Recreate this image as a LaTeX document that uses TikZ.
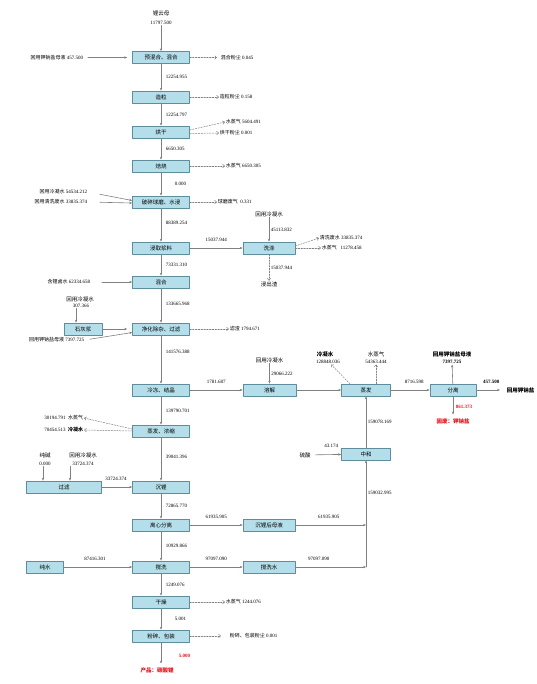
\documentclass[tikz,border=0pt]{standalone}
\usepackage{fontspec}
\setmainfont{Liberation Serif}
\newfontfamily\zh{Noto Sans CJK SC}
\usepackage{tikz}
\usetikzlibrary{arrows.meta, positioning}
\definecolor{flow-fill}{HTML}{B4DEE9}
\definecolor{flow-edge}{HTML}{5E8E9E}
\definecolor{flow-line}{HTML}{808080}
\definecolor{flow-red}{HTML}{E8121C}

\begin{document}
\begin{tikzpicture}[x=1pt, y=-1pt, >={Stealth[length=3pt,width=2.4pt]},
  line cap=round, line join=round, font=\fontsize{5}{6}\selectfont,
  proc/.style={draw=flow-edge, fill=flow-fill, line width=0.6pt, minimum width=57pt,
    minimum height=12pt, inner sep=0pt, font=\zh\fontsize{5.5}{6}\selectfont},
  txt/.style={inner sep=0.6pt},
  zhtxt/.style={inner sep=0.6pt, font=\zh\fontsize{5.5}{6}\selectfont},
  flow/.style={draw=flow-line, line width=0.6pt, ->},
  loss/.style={draw=flow-line, line width=0.5pt, dash pattern=on 1.6pt off 1.2pt,
    -{Straight Barb[length=2pt,width=3.4pt]}},
  hor/.style={txt, above=6pt},
  ver/.style={txt, right=4pt}]
  \useasboundingbox (0,0) rectangle (536,684);

  % main column
  \node[zhtxt] (ore) at (161,13) {锂云母};
  \node[txt] (oreq) at (161,23) {11797.500};
  \node[proc] (premix) at (161,57.5) {预混合、混合};
  \node[proc] (gran) at (161,97) {造粒};
  \node[proc] (dry) at (161,132) {烘干};
  \node[proc] (roast) at (161,166) {焙烧};
  \node[proc] (crush) at (161,202) {破碎球磨、水浸};
  \node[proc] (leach) at (161,248) {浸取浆料};
  \node[proc] (blend) at (161,282) {混合};
  \node[proc] (purify) at (161,329) {净化除杂、过滤};
  \node[proc] (freeze) at (161,390) {冷冻、结晶};
  \node[proc] (conc) at (161,431) {蒸发、浓缩};
  \node[proc] (preci) at (161,487) {沉锂};
  \node[proc] (centri) at (161,525) {离心分离};
  \node[proc] (stir) at (161,567) {搅洗};
  \node[proc] (dryer) at (161,602) {干燥};
  \node[proc] (pack) at (161,636) {粉碎、包装};
  \node[txt, font=\zh\bfseries\fontsize{5.5}{6}\selectfont, text=flow-red] (prod) at (157,670) {产品：碳酸锂};

  \draw[flow] (oreq) -- (premix);
  \draw[flow] (premix) -- node[ver] {12254.955} (gran);
  \draw[flow] (gran) -- node[ver] {12254.797} (dry);
  \draw[flow] (dry) -- node[ver] {6650.305} (roast);
  \draw[flow] (roast) -- node[ver, xshift=9pt] {0.000} (crush);
  \draw[flow] (crush) -- node[ver, pos=0.45] {88389.254} (leach);
  \draw[flow] (leach) -- node[ver] {73331.310} (blend);
  \draw[flow] (blend) -- node[ver, pos=0.45] {133665.968} (purify);
  \draw[flow] (purify) -- node[ver, pos=0.35] {141576.388} (freeze);
  \draw[flow] (freeze) -- node[ver] {139790.701} (conc);
  \draw[flow] (conc) -- node[ver, pos=0.45] {39041.396} (preci);
  \draw[flow] (preci) -- node[ver] {72865.770} (centri);
  \draw[flow] (centri) -- node[ver] {10929.866} (stir);
  \draw[flow] (stir) -- node[ver] {1249.076} (dryer);
  \draw[flow] (dryer) -- node[ver, xshift=9pt] {5.001} (pack);
  \draw[flow, shorten >=3pt] (pack) -- node[ver, xshift=13pt, pos=0.55, text=flow-red, font=\bfseries\fontsize{5}{6}\selectfont] {5.000} (pack |- prod.north);

  % inputs from the left
  \node[txt, anchor=east] (rin1) at (84,57.5) {{\zh 回用钾钠盐母液} 457.500};
  \node[txt, anchor=east] (cw1) at (88,192) {{\zh 回用冷凝水} 54534.212};
  \node[txt, anchor=east] (rin2) at (88,202) {{\zh 回用清洗废水} 33835.374};
  \node[txt, anchor=east] (brine) at (91,282) {{\zh 含锂卤水} 62334.658};
  \node[txt, anchor=east] (rin3) at (85,340) {{\zh 回用钾钠盐母液} 7397.725};
  \draw[flow, shorten <=4pt, shorten >=5pt] (rin1) -- (premix);
  \draw[flow, shorten <=12pt] (cw1.east) -- ([yshift=1.5pt]crush.west);
  \draw[flow, shorten <=12pt] (rin2.east) -- ([yshift=-1pt]crush.west);
  \draw[flow, shorten <=11pt] (brine) -- (blend);
  \draw[flow, shorten <=5pt] (rin3.east) -- ([yshift=-3.5pt]purify.west);

  \node[proc, minimum width=38pt] (lime) at (83,329) {石灰浆};
  \node[zhtxt] (cw2) at (80,299) {回用冷凝水};
  \node[txt] (cw2q) at (81,306) {307.366};
  \draw[flow] ([xshift=-5pt]cw2q.south) -- ([xshift=-7pt]lime.north);
  \draw[flow, shorten >=5pt] (lime) -- (purify);

  % losses to the right
  \node[txt, anchor=west] (dust1) at (220,57.5) {{\zh 混合粉尘} 0.045};
  \node[txt, anchor=west] (dust2) at (219,97) {{\zh 造粒粉尘} 0.158};
  \node[txt, anchor=west] (vap1) at (225,122) {{\zh 水蒸气} 5604.491};
  \node[txt, anchor=west] (dust3) at (219,133) {{\zh 烘干粉尘} 0.001};
  \node[txt, anchor=west] (vap2) at (225,166) {{\zh 水蒸气} 6650.305};
  \node[txt, anchor=west] (gas1) at (217,202) {{\zh 球磨废气}\ \ 0.331};
  \node[txt, anchor=west] (cake) at (229,329) {{\zh 滤渣} 1794.671};
  \node[txt, anchor=west] (vap3) at (225,602) {{\zh 水蒸气} 1244.076};
  \node[txt, anchor=west] (dust4) at (229,636) {{\zh 粉碎、包装粉尘} 0.001};
  \draw[loss] (premix) -- ([xshift=-3pt]dust1.west);
  \draw[loss] (gran) -- (dust2);
  \draw[loss] ([yshift=2pt]dry.east) -- (vap1.west);
  \draw[loss] ([yshift=-1.5pt]dry.east) -- (dust3.west);
  \draw[loss] (roast) -- (vap2);
  \draw[loss] (crush) -- (gas1);
  \draw[loss] (purify) -- (cake);
  \draw[loss] (dryer) -- (vap3);
  \draw[loss] (pack) -- ([xshift=-8pt]dust4.west);

  \node[txt, anchor=east] (vap4) at (84,418) {30194.791\ \ {\zh 水蒸气}};
  \node[txt, anchor=east] (cond1) at (84,430) {70454.513\ \ {\zh\bfseries 冷凝水}};
  \draw[loss] ([yshift=2pt]conc.west) -- (vap4.east);
  \draw[loss] (conc.west) -- (cond1.east);

  % washing branch
  \node[proc, minimum width=52pt] (wash) at (269,248) {洗涤};
  \node[zhtxt] (cw3) at (269,214) {回用冷凝水};
  \node[zhtxt] (slag) at (269,284) {浸出渣};
  \node[txt, anchor=west] (ww) at (319,238) {{\zh 清洗废水} 33835.374};
  \node[txt, anchor=west] (vap5) at (321,248) {{\zh 水蒸气}\ \ \ 11278.458};
  \draw[flow] (leach) -- node[hor] {15037.944} (wash);
  \draw[flow] (cw3) -- node[ver, xshift=-3pt] {45113.832} (wash);
  \draw[loss] (wash) -- node[ver, xshift=-3pt] {15037.944} (slag);
  \draw[loss] ([yshift=2pt]wash.east) -- (ww.west);
  \draw[loss] (wash) -- (vap5);

  % dissolving and evaporation branch
  \node[proc, minimum width=53pt] (diss) at (269.5,390) {溶解};
  \node[proc, minimum width=49pt] (evap) at (366,390) {蒸发};
  \node[proc, minimum width=46pt] (sep) at (453,390) {分离};
  \node[proc, minimum width=49pt] (neut) at (366,454) {中和};
  \node[zhtxt] (cw4) at (269.5,360) {回用冷凝水};
  \draw[flow] (freeze) -- node[hor] {1781.687} (diss);
  \draw[flow] (cw4) -- node[ver, xshift=-3pt] {29066.222} (diss);
  \draw[flow] (diss) -- (evap);

  \node[txt, font=\zh\bfseries\fontsize{5.5}{6}\selectfont] (cond2) at (325,354) {冷凝水};
  \node[txt] (cond2q) at (328,362) {128848.036};
  \node[zhtxt] (vap6) at (376,354) {水蒸气};
  \node[txt] (vap6q) at (376,362) {54363.444};
  \draw[loss] ([xshift=-16pt]evap.north) -- ([xshift=3pt]cond2q.south);
  \draw[loss] ([xshift=10pt]evap.north) -- (vap6q.south);
  \draw[flow] (evap) -- node[hor, pos=0.6] {8716.598} (sep);

  \node[txt, font=\zh\bfseries\fontsize{5.5}{6}\selectfont] (rec1) at (452,354) {回用钾钠盐母液};
  \node[txt, font=\bfseries\fontsize{5}{6}\selectfont] (rec1q) at (452,362) {7397.725};
  \node[txt, anchor=west, font=\zh\bfseries\fontsize{5.5}{6}\selectfont] (rec2) at (506,390) {回用钾钠盐};
  \node[txt, font=\zh\bfseries\fontsize{5.5}{6}\selectfont, text=flow-red] (waste) at (453,421) {固废：钾钠盐};
  \draw[flow] (sep) -- (rec1q);
  \draw[flow, shorten >=6pt] (sep) -- node[hor, font=\bfseries\fontsize{5}{6}\selectfont] {457.500} (rec2);
  \draw[flow, shorten >=3pt] (sep) -- node[ver, xshift=-2pt, text=flow-red, font=\bfseries\fontsize{5}{6}\selectfont] {861.373} (waste);

  % mother liquor return
  \node[zhtxt] (acid) at (305,455) {硫酸};
  \draw[flow, shorten <=4pt] (acid) -- node[hor, xshift=5pt] {43.174} (neut);
  \draw[flow] (neut) -- node[ver, xshift=-3pt] {159078.169} (evap);

  \node[proc, minimum width=75pt] (filt) at (64,487) {过滤};
  \node[zhtxt] (soda) at (45,455) {纯碱};
  \node[txt] (sodaq) at (45,464) {0.000};
  \node[zhtxt] (cw5) at (83,455) {回用冷凝水};
  \node[txt] (cw5q) at (83,464) {33724.374};
  \draw[flow] ([xshift=-2pt]sodaq.south) -- ([xshift=-21pt]filt.north);
  \draw[flow] ([xshift=-13pt]cw5q.south) -- ([xshift=6pt]filt.north);
  \draw[flow] (filt) -- node[hor, xshift=-1pt] {33724.374} (preci);

  \node[proc, minimum width=52pt] (mother) at (269,525) {沉锂后母液};
  \node[proc, minimum width=37pt] (pure) at (45,567) {纯水};
  \node[proc, minimum width=52pt] (stirw) at (269,567) {搅洗水};
  \coordinate (j1) at (366,525);
  \coordinate (j2) at (366,567);
  \draw[flow] (centri) -- node[hor] {61935.905} (mother);
  \draw[flow] (mother) -- node[hor, xshift=-2pt] {61935.905} (j1);
  \draw[flow] (pure) -- node[hor, xshift=-3pt] {87416.301} (stir);
  \draw[flow] (stir) -- node[hor] {97097.090} (stirw);
  \draw[flow] (stirw) -- node[hor, xshift=-12pt] {97097.090} (j2);
  \draw[draw=flow-line, line width=0.6pt] (j2) -- (j1);
  \draw[flow] (j1) -- node[ver, xshift=-3pt] {159032.995} (neut);
\end{tikzpicture}
\end{document}
